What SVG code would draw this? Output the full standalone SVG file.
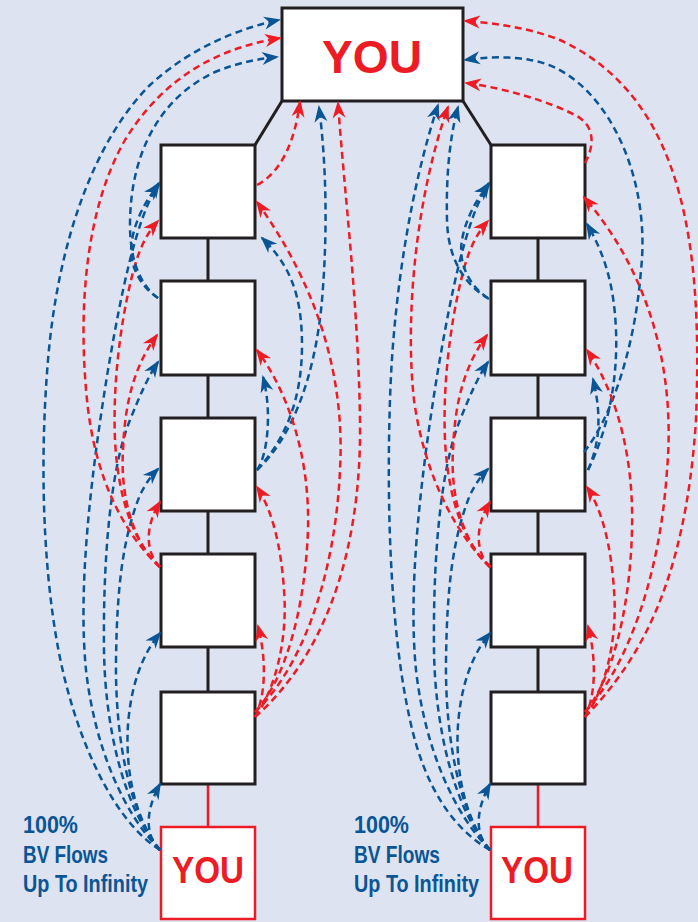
<svg xmlns="http://www.w3.org/2000/svg" width="698" height="922" viewBox="0 0 698 922">
<style>
.box{fill:#fff;stroke:#231f20;stroke-width:3}
.rbox{fill:#fff;stroke:#ed1c24;stroke-width:2.5}
.link{stroke:#231f20;stroke-width:3;fill:none}
.rlink{stroke:#ed1c24;stroke-width:2.5;fill:none}
.b{fill:none;stroke:#0a5596;stroke-width:2.5;stroke-dasharray:7 4.5;marker-end:url(#ab)}
.r{fill:none;stroke:#ed1c24;stroke-width:2.5;stroke-dasharray:7 4.5;marker-end:url(#ar)}
.you{font-family:"Liberation Sans",Arial,sans-serif;font-weight:bold;fill:#ed1c24;text-anchor:middle}
.lab{font-family:"Liberation Sans Narrow","Liberation Sans",Arial,sans-serif;font-weight:bold;fill:#0a5596;font-size:24px}
</style>
<defs>
<marker id="ab" markerUnits="userSpaceOnUse" viewBox="-19 -8 22 16" markerWidth="22" markerHeight="16" refX="-2" refY="0" orient="auto"><path d="M0,0 L-17,-6.5 L-12,0 L-17,6.5 Z" fill="#0a5596"/></marker>
<marker id="ar" markerUnits="userSpaceOnUse" viewBox="-19 -8 22 16" markerWidth="22" markerHeight="16" refX="-2" refY="0" orient="auto"><path d="M0,0 L-17,-6.5 L-12,0 L-17,6.5 Z" fill="#ed1c24"/></marker>
</defs>
<rect width="698" height="922" fill="#dde3f0"/>

<g id="links">
<line class="link" x1="282" y1="101" x2="255" y2="145"/>
<line class="link" x1="463" y1="101" x2="491" y2="145"/>
<line class="link" x1="208" y1="238" x2="208" y2="281"/>
<line class="link" x1="208" y1="375" x2="208" y2="418"/>
<line class="link" x1="208" y1="511" x2="208" y2="554"/>
<line class="link" x1="208" y1="647" x2="208" y2="692"/>
<line class="rlink" x1="208" y1="784" x2="208" y2="827"/>
<line class="link" x1="538" y1="238" x2="538" y2="281"/>
<line class="link" x1="538" y1="375" x2="538" y2="418"/>
<line class="link" x1="538" y1="511" x2="538" y2="554"/>
<line class="link" x1="538" y1="647" x2="538" y2="692"/>
<line class="rlink" x1="538" y1="784" x2="538" y2="827"/>
</g>

<g id="top-you"><rect class="box" x="282" y="8" width="181" height="93"/><text class="you" x="372" y="73" font-size="46" textLength="100" lengthAdjust="spacingAndGlyphs">YOU</text></g>
<g id="L1"><rect class="box" x="161" y="145" width="94" height="93"/></g>
<g id="L2"><rect class="box" x="161" y="281" width="94" height="94"/></g>
<g id="L3"><rect class="box" x="161" y="418" width="94" height="93"/></g>
<g id="L4"><rect class="box" x="161" y="554" width="94" height="93"/></g>
<g id="L5"><rect class="box" x="161" y="692" width="94" height="92"/></g>
<g id="L-you"><rect class="rbox" x="161" y="827" width="94" height="92"/><text class="you" x="208" y="883" font-size="36" textLength="72" lengthAdjust="spacingAndGlyphs">YOU</text></g>
<g id="R1"><rect class="box" x="491" y="145" width="94" height="93"/></g>
<g id="R2"><rect class="box" x="491" y="281" width="94" height="94"/></g>
<g id="R3"><rect class="box" x="491" y="418" width="94" height="93"/></g>
<g id="R4"><rect class="box" x="491" y="554" width="94" height="93"/></g>
<g id="R5"><rect class="box" x="491" y="692" width="94" height="92"/></g>
<g id="R-you"><rect class="rbox" x="491" y="827" width="94" height="92"/><text class="you" x="537" y="883" font-size="36" textLength="72" lengthAdjust="spacingAndGlyphs">YOU</text></g>

<g id="label-left">
<text class="lab" x="23" y="833" textLength="55" lengthAdjust="spacingAndGlyphs">100%</text>
<text class="lab" x="23" y="863" textLength="85" lengthAdjust="spacingAndGlyphs">BV Flows</text>
<text class="lab" x="23" y="892" textLength="125" lengthAdjust="spacingAndGlyphs">Up To Infinity</text>
</g>
<g id="label-right">
<text class="lab" x="354" y="833" textLength="55" lengthAdjust="spacingAndGlyphs">100%</text>
<text class="lab" x="354" y="863" textLength="86" lengthAdjust="spacingAndGlyphs">BV Flows</text>
<text class="lab" x="354" y="892" textLength="125" lengthAdjust="spacingAndGlyphs">Up To Infinity</text>
</g>

<g id="connectors">
<!-- left column: from bottom YOU (blue, left side) -->
<path class="b" d="M160,850 C120,825 85,760 65,680 C45,600 38,480 48,360 C58,240 95,140 150,85 C190,48 240,28 279,20"/>
<path class="b" d="M160,850 C125,815 95,750 86,670 C78,590 90,480 108,370 C120,300 135,220 159,183"/>
<path class="b" d="M160,850 C125,810 105,730 104,650 C103,560 110,470 130,420 C140,395 148,377 158,362"/>
<path class="b" d="M160,850 C130,815 115,740 116,660 C117,590 122,540 140,495 C146,483 151,476 158,469"/>
<path class="b" d="M160,850 C135,820 125,770 128,725 C131,685 142,655 160,633"/>
<path class="b" d="M160,850 C147,838 143,815 160,784"/>
<!-- left column: from box 4 (red, left side) -->
<path class="r" d="M160,567 C125,535 95,480 87,400 C78,310 85,210 125,140 C165,75 220,48 280,38"/>
<path class="r" d="M160,567 C135,545 118,500 115,440 C112,370 125,300 135,265 C141,245 148,232 158,221"/>
<path class="r" d="M160,567 C135,545 120,500 123,450 C125,400 135,365 157,335"/>
<path class="r" d="M160,567 C146,553 144,528 160,502"/>
<!-- left column: from box 2 (blue, left side) -->
<path class="b" d="M158,298 C140,285 130,260 130,225 C130,160 155,100 215,72 C240,62 258,59 277,57"/>
<path class="b" d="M158,298 C138,285 128,262 132,240 C135,222 145,200 159,185"/>
<!-- left column: from box 1 (red, right side) -->
<path class="r" d="M257,185 C282,172 295,140 300,102"/>
<!-- left column: from box 3 (blue, right side) -->
<path class="b" d="M257,470 C268,455 272,410 263,377"/>
<path class="b" d="M257,470 C285,440 302,400 302,345 C302,295 290,265 262,238"/>
<path class="b" d="M257,470 C290,440 315,380 322,300 C328,230 326,160 319,107"/>
<!-- left column: from box 5 (red, right side) -->
<path class="r" d="M255,717 C264,700 268,665 258,626"/>
<path class="r" d="M255,717 C275,690 288,640 284,590 C281,545 272,510 257,487"/>
<path class="r" d="M255,712 C285,680 305,610 308,530 C310,460 290,395 257,350"/>
<path class="r" d="M255,712 C300,670 335,580 340,470 C345,380 320,290 257,202"/>
<path class="r" d="M255,717 C320,660 362,560 360,420 C358,300 345,200 338,103"/>

<!-- right column: from bottom YOU (blue, left side) -->
<path class="b" d="M490,850 C455,830 425,790 410,720 C392,640 386,520 390,400 C393,300 410,190 438,105"/>
<path class="b" d="M490,850 C455,815 425,750 416,670 C408,590 420,480 438,370 C450,300 465,220 489,183"/>
<path class="b" d="M490,850 C455,810 435,730 434,650 C433,560 440,470 460,420 C470,395 478,377 488,362"/>
<path class="b" d="M490,850 C460,815 445,740 446,660 C447,590 452,540 470,495 C476,483 481,476 488,469"/>
<path class="b" d="M490,850 C465,820 455,770 458,725 C461,685 472,655 490,633"/>
<path class="b" d="M490,850 C477,838 473,815 490,784"/>
<!-- right column: from box 4 (red, left side) -->
<path class="r" d="M491,567 C460,540 425,480 414,400 C405,320 415,200 448,107"/>
<path class="r" d="M490,567 C465,545 448,500 445,440 C442,370 455,300 465,265 C471,245 478,232 488,221"/>
<path class="r" d="M490,567 C465,545 450,500 453,450 C455,400 465,365 487,335"/>
<path class="r" d="M490,567 C476,553 474,528 490,502"/>
<!-- right column: from box 2 (blue, left side) -->
<path class="b" d="M489,299 C465,285 448,260 447,220 C446,180 449,140 458,107"/>
<path class="b" d="M488,298 C468,285 458,262 462,240 C465,222 475,200 489,185"/>
<!-- right column: from box 1 (red, right side) -->
<path class="r" d="M585,163 C595,145 595,125 575,115 C550,102 505,88 466,83"/>
<!-- right column: from box 3 (blue, right side) -->
<path class="b" d="M588,470 C598,447 603,420 593,379"/>
<path class="b" d="M588,470 C608,430 618,380 616,330 C614,285 605,255 587,224"/>
<path class="b" d="M584,452 C610,420 635,350 641,270 C652,170 600,70 530,60 C510,56 485,57 465,60"/>
<!-- right column: from box 5 (red, right side) -->
<path class="r" d="M585,717 C594,700 598,665 588,626"/>
<path class="r" d="M585,717 C605,690 618,640 614,590 C611,545 602,510 587,487"/>
<path class="r" d="M585,712 C612,680 630,610 632,530 C634,460 618,395 587,350"/>
<path class="r" d="M585,712 C625,670 660,580 667,470 C675,380 655,280 584,197"/>
<path class="r" d="M585,717 C635,665 685,590 696,420 C702,260 690,100 560,40 C530,28 495,23 465,21"/>
</g>
</svg>
